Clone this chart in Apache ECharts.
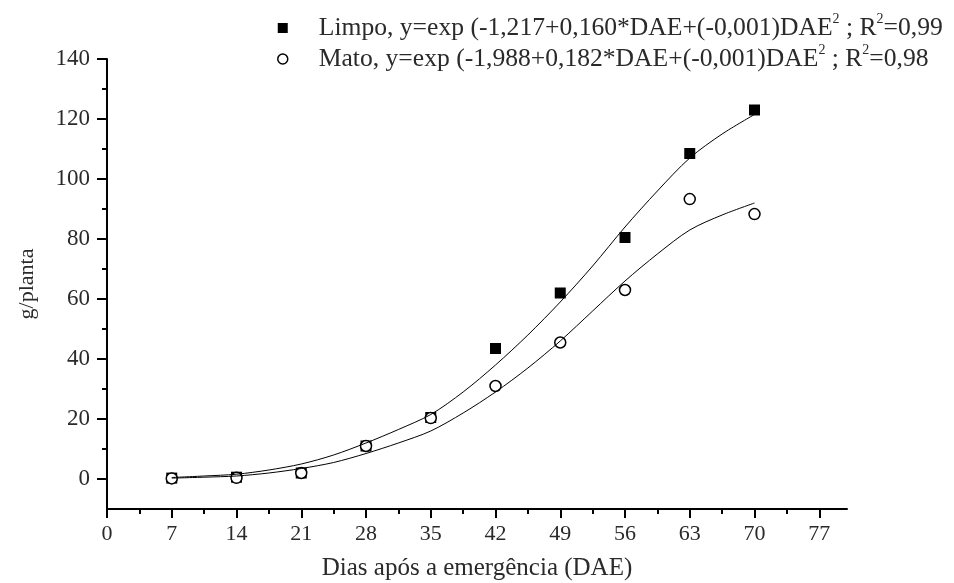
<!DOCTYPE html>
<html>
<head>
<meta charset="utf-8">
<script src="https://cdn.jsdelivr.net/npm/echarts@6/dist/echarts.min.js"></script>
<style>
  html, body { margin: 0; padding: 0; background: #fff; }
  #chart { width: 954px; height: 583px; }
</style>
</head>
<body>
<div id="chart"></div>
<script>
// dias após emergência
const dae = [7, 14, 21, 28, 35, 42, 49, 56, 63, 70];
// pontos observados (g/planta)
const limpoObs = [0.3, 0.6, 2, 11, 20.5, 43.5, 62, 80.5, 108.5, 123];
const matoObs = [0.2, 0.4, 2, 11, 20.3, 31, 45.5, 63, 93.3, 88.3];
// curvas ajustadas
const curveX = [7, 10.5, 14, 17.5, 21, 24.5, 28, 31.5, 35, 38.5, 42, 45.5, 49, 52.5, 56, 59.5, 63, 66.5, 70];
const limpoFit = [0.5, 1, 1.6, 3, 5, 8, 12, 16.5, 21.5, 29, 38, 48, 59, 71, 84, 96, 107, 115, 121.5];
const matoFit = [0.3, 0.6, 1, 2, 3.5, 5.5, 8.5, 12, 16, 22, 29, 37, 46, 56, 66, 75, 83, 88, 92];

const xMajor = [0, 7, 14, 21, 28, 35, 42, 49, 56, 63, 70, 77];
const xMinor = [3.5, 10.5, 17.5, 24.5, 31.5, 38.5, 45.5, 52.5, 59.5, 66.5, 73.5];
const yMajor = [0, 20, 40, 60, 80, 100, 120, 140];
const yMinor = [10, 30, 50, 70, 90, 110, 130];

const legendText = {
  'Limpo': '{a|Limpo, y=exp (-1,217+0,160*DAE+(-0,001)DAE}{s|2}{a| ; R}{s|2}{a|=0,99}',
  'Mato': '{a|Mato, y=exp (-1,988+0,182*DAE+(-0,001)DAE}{s|2}{a| ; R}{s|2}{a|=0,98}'
};

const serif = '"Liberation Serif", "DejaVu Serif", serif';
const txt = '#2a2a2a';

const chart = echarts.init(document.getElementById('chart'), null, { renderer: 'canvas' });

const xBase = {
  type: 'value', min: 0, max: 80,
  axisLine: { onZero: false, lineStyle: { color: '#000', width: 2 } },
  splitLine: { show: false }
};
const yBase = {
  type: 'value', min: -10, max: 140,
  axisLine: { lineStyle: { color: '#000', width: 2 } },
  splitLine: { show: false }
};

chart.setOption({
  animation: false,
  backgroundColor: '#fff',
  grid: { left: 107, right: 107, top: 59, bottom: 74, containLabel: false, outerBoundsMode: 'none' },
  legend: {
    orient: 'vertical',
    left: 277, top: 12,
    padding: 0,
    itemWidth: 10, itemHeight: 10, itemGap: 2,
    data: [
      { name: 'Limpo', icon: 'rect' },
      { name: 'Mato', icon: 'circle', itemStyle: { color: '#fff', borderColor: '#000', borderWidth: 1.5 } }
    ],
    formatter: name => legendText[name],
    textStyle: {
      padding: [0, 0, 0, 26],
      rich: {
        a: { fontFamily: serif, fontSize: 25.6, color: txt, lineHeight: 32 },
        s: { fontFamily: serif, fontSize: 14, color: txt, verticalAlign: 'top', lineHeight: 32, padding: [0, 0, 10, 0] }
      }
    }
  },
  xAxis: [
    Object.assign({}, xBase, {
      name: 'Dias após a emergência (DAE)',
      nameLocation: 'middle', nameGap: 47,
      nameTextStyle: { fontFamily: serif, fontSize: 25, color: txt },
      axisTick: { customValues: xMajor, length: 9, lineStyle: { color: '#000', width: 2 } },
      axisLabel: { customValues: xMajor, fontFamily: serif, fontSize: 22, color: txt, margin: 14 }
    }),
    Object.assign({}, xBase, {
      position: 'bottom',
      axisLine: { show: false, onZero: false },
      axisTick: { customValues: xMinor, length: 5, lineStyle: { color: '#000', width: 2 } },
      axisLabel: { show: false }
    })
  ],
  yAxis: [
    Object.assign({}, yBase, {
      name: 'g/planta',
      nameLocation: 'middle', nameGap: 69, nameRotate: 90,
      nameTextStyle: { fontFamily: serif, fontSize: 22, color: txt },
      axisTick: { customValues: yMajor, length: 10, lineStyle: { color: '#000', width: 2 } },
      axisLabel: { customValues: yMajor, fontFamily: serif, fontSize: 23, color: txt, margin: 17, padding: [0, 0, 5, 0] }
    }),
    Object.assign({}, yBase, {
      position: 'left',
      axisLine: { show: false },
      axisTick: { customValues: yMinor, length: 5, lineStyle: { color: '#000', width: 2 } },
      axisLabel: { show: false }
    })
  ],
  series: [
    {
      name: 'Limpo ajuste', type: 'line', smooth: 0.3, symbol: 'none',
      lineStyle: { color: '#000', width: 1 },
      data: curveX.map((x, i) => [x, limpoFit[i]])
    },
    {
      name: 'Mato ajuste', type: 'line', smooth: 0.3, symbol: 'none',
      lineStyle: { color: '#000', width: 1 },
      data: curveX.map((x, i) => [x, matoFit[i]])
    },
    {
      name: 'Limpo', type: 'scatter', symbol: 'rect', symbolSize: 11,
      itemStyle: { color: '#000', opacity: 1 },
      data: dae.map((x, i) => [x, limpoObs[i]])
    },
    {
      name: 'Mato', type: 'scatter', symbol: 'circle', symbolSize: 11,
      itemStyle: { color: '#fff', borderColor: '#000', borderWidth: 1.5, opacity: 1 },
      data: dae.map((x, i) => [x, matoObs[i]])
    }
  ]
});

window.addEventListener('resize', () => chart.resize());
</script>
</body>
</html>
